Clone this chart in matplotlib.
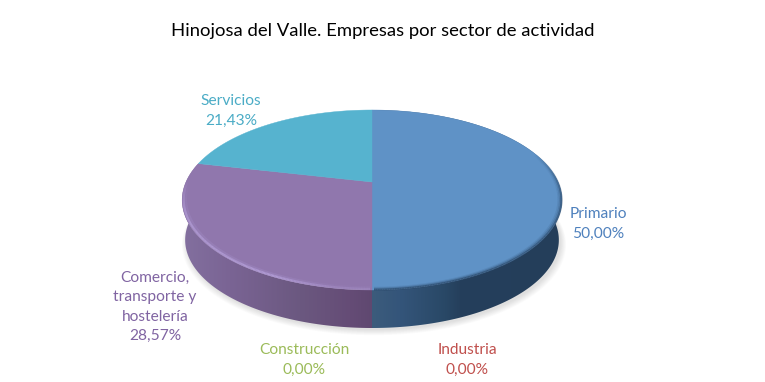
import numpy as np
import matplotlib
matplotlib.use("Agg")
import matplotlib.pyplot as plt
from matplotlib.patches import Polygon
from matplotlib.colors import to_rgb
from matplotlib.collections import LineCollection

title = "Hinojosa del Valle. Empresas por sector de actividad"
categories = ["Primario", "Industria", "Construcción", "Comercio,\ntransporte y\nhostelería", "Servicios"]
values = [50.00, 0.00, 0.00, 28.57, 21.43]
top_colors = ["#5f92c6", "#c0504d", "#9bbb59", "#9077ad", "#56b3cf"]
text_colors = ["#4f81bd", "#c0504d", "#9bbb59", "#8064a2", "#4bacc6"]
label_pos = [(598, 224), (467, 360), (304, 360), (155, 307), (231, 111)]

plt.rcParams['font.family'] = ['Lato', 'DejaVu Sans']
fig = plt.figure(figsize=(7.65, 3.82), dpi=100)
ax = fig.add_axes([0, 0, 1, 1])
ax.set_xlim(0, 765)
ax.set_ylim(382, 0)
ax.axis("off")

CX, CY = 372, 182          # apex
C, B, K = 0.2, -50, 186    # perspective


def top_xy(theta_deg, r=1.0):
    t = np.radians(theta_deg)
    u, v = r * np.sin(t), r * np.cos(t)
    d = 1 + C * v
    return CX + K * u / d, (CY + B * v) / d


def bottom_xy(theta_deg):
    x, y = top_xy(theta_deg)
    return CX + (x - CX) * 187 / 190, 240 + (y - 200) * 88 / 90


def rim(theta, r, width, color, alpha):
    x, y = top_xy(theta, r)
    pts = np.c_[x, y]
    segs = np.stack([pts[:-1], pts[1:]], axis=1)
    rgba = np.tile((*to_rgb(color), 1.0), (len(segs), 1))
    rgba[:, 3] = alpha[:-1]
    ax.add_collection(LineCollection(segs, colors=rgba, linewidths=width, zorder=4, capstyle="butt"))


# soft shadow under the body
th_all = np.linspace(0, 360, 361)
bx, by = bottom_xy(th_all)
for i in range(8):
    g = 1 + 0.004 * i
    ax.add_patch(Polygon(np.c_[CX + (bx - CX) * g + 2, by + (by - 240) * (g - 1) + 2 + 0.4 * i],
                         closed=True, fc="#000000", ec="none", alpha=0.016, zorder=1))

# angle spans, clockwise from 12 o'clock
edges = np.concatenate([[0], np.cumsum(values)]) * 3.6
spans = list(zip(edges[:-1], edges[1:]))

side_stops = {
    0: [(372, "#3c5c7c"), (400, "#34557a"), (445, "#294866"), (460, "#253f5c"), (562, "#243e5a")],
    3: [(182, "#83709f"), (230, "#7a6494"), (300, "#6b5880"), (350, "#654c76"), (372, "#5f4870")],
}
xs_grad = np.arange(175, 570)
for idx, stops in side_stops.items():
    a, b = spans[idx]
    th = np.linspace(a, b, 200)
    tx, ty = top_xy(th)
    ox, oy = bottom_xy(th)
    poly = Polygon(np.r_[np.c_[tx, ty], np.c_[ox, oy][::-1]], closed=True,
                   fc="none", ec="none", transform=ax.transData)
    ax.add_patch(poly)
    px = [s[0] for s in stops]
    rgb = np.array([to_rgb(s[1]) for s in stops])
    grad = np.stack([np.interp(xs_grad, px, rgb[:, k]) for k in range(3)], axis=-1)[None, :, :]
    im = ax.imshow(grad, extent=(175, 570, 340, 100), aspect="auto", zorder=2, interpolation="bilinear")
    im.set_clip_path(poly)
ax.set_xlim(0, 765)
ax.set_ylim(382, 0)

# top surface
for (a, b), col in zip(spans, top_colors):
    if b - a <= 0:
        continue
    th = np.linspace(a, b, 200)
    x, y = top_xy(th)
    ax.add_patch(Polygon(np.r_[[[CX, CY]], np.c_[x, y]], closed=True, fc=col, ec=col, lw=0.3, zorder=3))

# bevel on the front rim
a, b = spans[3]
th = np.linspace(a + 0.5, b - 8, 240)
fade = np.clip((th - a) / 25, 0.35, 1) * np.clip((b - 12 - th) / 22, 0, 1)
rim(th, 0.992, 1.6, "#b29dd6", 0.95 * fade)
rim(th, 0.980, 1.6, "#a28cc6", 0.4 * fade)
th = np.linspace(70, 179.5, 260)
fade = np.clip((th - 70) / 30, 0, 1)
rim(th, 0.998, 1.5, "#2c4a6b", 0.75 * fade)
rim(th, 0.990, 1.3, "#2c4a6b", 0.32 * fade)
rim(th, 0.982, 1.2, "#2c4a6b", 0.12 * fade)

# texts
ax.text(382.5, 31, title, ha="center", va="center", fontsize=13.3, color="black", zorder=6)
for cat, val, col, (lx, ly) in zip(categories, values, text_colors, label_pos):
    s = f"{cat}\n{val:.2f}".replace(".", ",") + "%"
    ax.text(lx, ly, s, ha="center", va="center", fontsize=11.2, color=col, linespacing=1.5, zorder=6)

fig.savefig("out.png", dpi=100)
